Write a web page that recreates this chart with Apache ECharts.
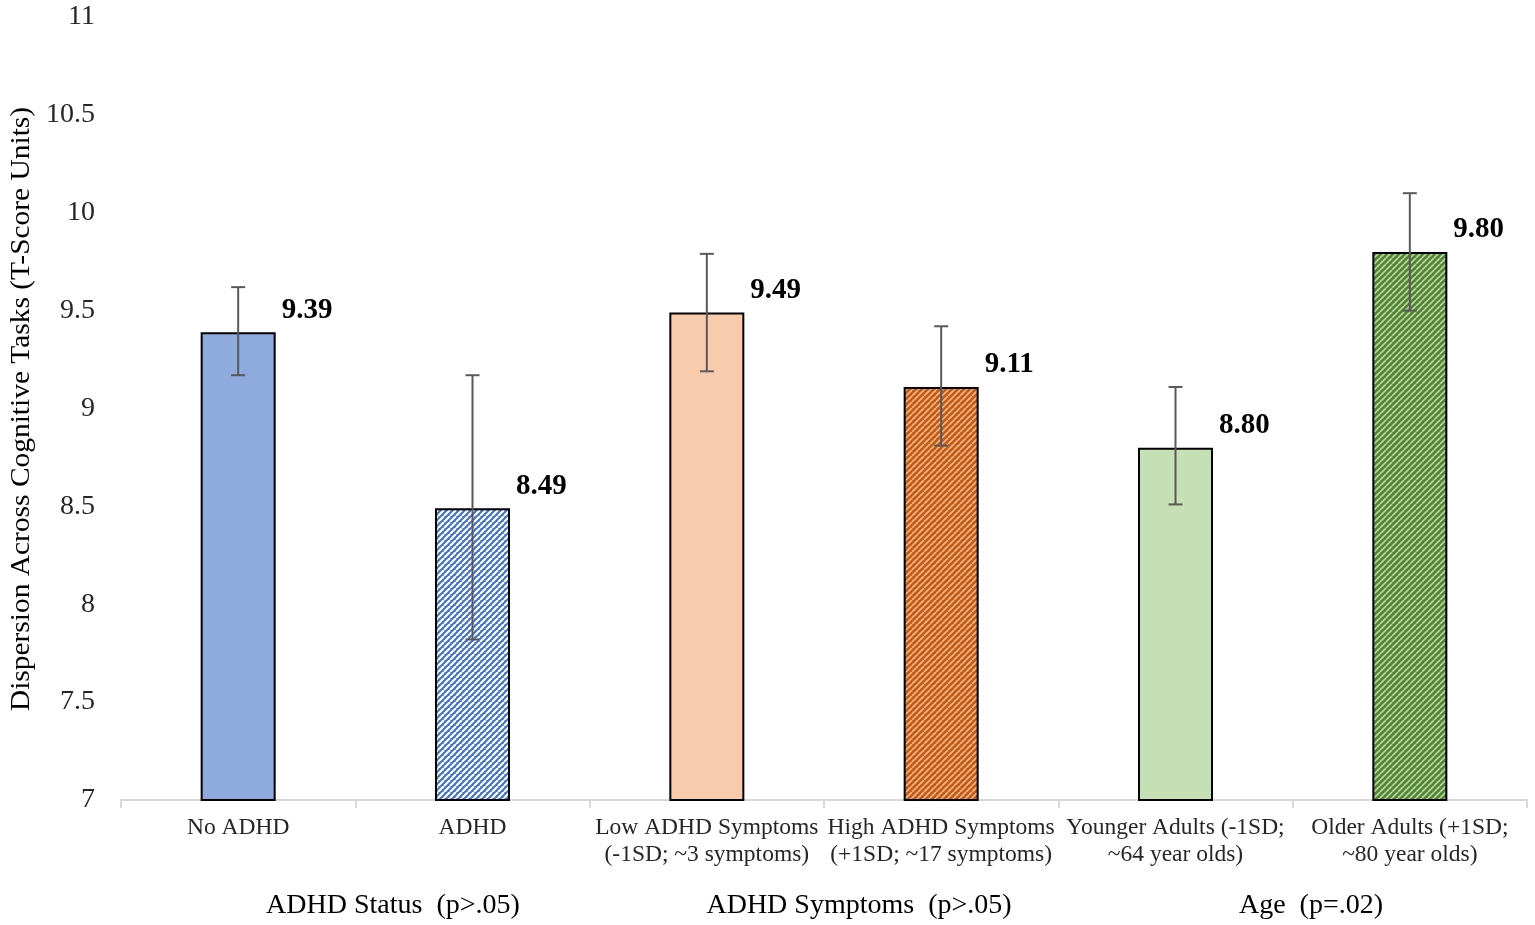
<!DOCTYPE html>
<html>
<head>
<meta charset="utf-8">
<script src="https://cdn.jsdelivr.net/npm/echarts@6/dist/echarts.min.js"></script>
<style>
html,body{margin:0;padding:0;background:#fff;}
#chart{width:1535px;height:925px;}
</style>
</head>
<body>
<div id="chart"></div>
<script>
const categories = ['No ADHD', 'ADHD', 'Low ADHD Symptoms\n(-1SD; ~3 symptoms)', 'High ADHD Symptoms\n(+1SD; ~17 symptoms)', 'Younger Adults (-1SD;\n~64 year olds)', 'Older Adults (+1SD;\n~80 year olds)'];
const values = [9.39, 8.49, 9.49, 9.11, 8.80, 9.80];
const errLow = [9.17, 7.82, 9.19, 8.81, 8.51, 9.50];
const errHigh = [9.62, 9.17, 9.79, 9.42, 9.11, 10.10];
const groupLabels = ['ADHD Status  (p>.05)', 'ADHD Symptoms  (p>.05)', 'Age  (p=.02)'];
const yAxisTitle = 'Dispersion Across Cognitive Tasks (T-Score Units)';

function makePattern(bg, fg, period, lw) {
  const c = document.createElement('canvas');
  c.width = period; c.height = period;
  const ctx = c.getContext('2d');
  ctx.fillStyle = bg; ctx.fillRect(0, 0, period, period);
  ctx.strokeStyle = fg; ctx.lineWidth = lw;
  for (let k = -1; k <= 1; k++) {
    ctx.beginPath();
    ctx.moveTo(k * period, period);
    ctx.lineTo(k * period + period, 0);
    ctx.stroke();
  }
  return { image: c, repeat: 'repeat' };
}

const fills = [
  '#8FAADC',
  makePattern('#4472C4', '#ffffff', 6, 2.2),
  '#F8CBAD',
  makePattern('#C55A11', '#F0B890', 6, 1.6),
  '#C5E0B4',
  makePattern('#548235', '#B5D99C', 6, 1.6)
];

const chart = echarts.init(document.getElementById('chart'), null, {renderer: 'canvas'});
const serif = '"Liberation Serif", "Times New Roman", serif';
const gridLeft = 121, gridRight = 8, gridTop = 17, gridBottom = 125;
const groupCenters = [393, 859, 1311];

const option = {
  animation: false,
  grid: {left: gridLeft, right: gridRight, top: gridTop, bottom: gridBottom, containLabel: false, outerBoundsMode: 'none'},
  xAxis: {
    type: 'category',
    data: categories,
    axisLine: {lineStyle: {color: '#D9D9D9', width: 2}},
    axisTick: {show: true, length: 8, lineStyle: {color: '#D9D9D9', width: 2}},
    axisLabel: {fontFamily: serif, fontSize: 23.5, color: '#262626', lineHeight: 27, margin: 14, interval: 0}
  },
  yAxis: {
    type: 'value',
    min: 7, max: 11, interval: 0.5,
    axisLine: {show: false},
    axisTick: {show: false},
    splitLine: {show: false},
    axisLabel: {fontFamily: serif, fontSize: 28, color: '#262626', margin: 26}
  },
  series: [
    {
      type: 'bar',
      data: values.map((v, i) => ({value: v, itemStyle: {color: fills[i]}})),
      barWidth: 75,
      itemStyle: {borderColor: '#000', borderWidth: 2},
      label: {
        show: true,
        position: ['100%', 0],
        offset: [6, -22],
        align: 'left',
        verticalAlign: 'middle',
        fontFamily: serif,
        fontWeight: 'bold',
        fontSize: 29,
        color: '#000',
        formatter: p => p.value.toFixed(2)
      },
      z: 2
    },
    {
      type: 'custom',
      data: categories.map((c, i) => [i, errLow[i], errHigh[i]]),
      renderItem: function (params, api) {
        const p1 = api.coord([api.value(0), api.value(1)]);
        const p2 = api.coord([api.value(0), api.value(2)]);
        const x = p1[0], yl = p1[1], yh = p2[1];
        const hw = 7;
        const st = {stroke: '#595959', lineWidth: 2};
        return {
          type: 'group',
          children: [
            {type: 'line', shape: {x1: x, y1: yl, x2: x, y2: yh}, style: st},
            {type: 'line', shape: {x1: x - hw, y1: yl, x2: x + hw, y2: yl}, style: st},
            {type: 'line', shape: {x1: x - hw, y1: yh, x2: x + hw, y2: yh}, style: st}
          ]
        };
      },
      z: 5
    }
  ],
  graphic: groupLabels.map((t, i) => ({
    type: 'text',
    x: groupCenters[i],
    y: 906,
    style: {text: t, fontFamily: serif, fontSize: 28, fill: '#000', align: 'center', verticalAlign: 'middle'}
  })).concat([{
    type: 'text',
    x: 22,
    y: 409,
    rotation: Math.PI / 2,
    scaleX: 1.09,
    style: {text: yAxisTitle, fontFamily: serif, fontSize: 27, fill: '#000', align: 'center', verticalAlign: 'middle'}
  }])
};
chart.setOption(option);
</script>
</body>
</html>
